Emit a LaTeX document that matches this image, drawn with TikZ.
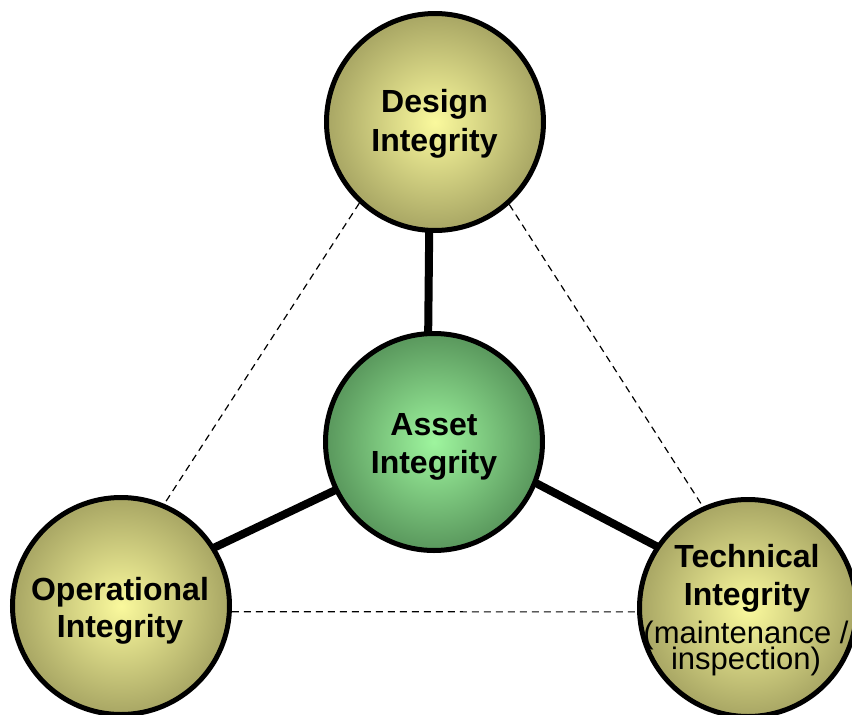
\documentclass[tikz,border=0pt]{standalone}
\usepackage{fontspec}
\setmainfont{Liberation Sans}
\usetikzlibrary{backgrounds}
\definecolor{yin}{HTML}{FAF99D}
\definecolor{yout}{HTML}{ABA966}
\definecolor{gin}{HTML}{9EF59E}
\definecolor{gout}{HTML}{5C9B5F}
\pgfdeclareradialshading{yshade}{\pgfpoint{0bp}{0bp}}{color(0bp)=(yin); color(24bp)=(yout); color(25bp)=(yout); color(50bp)=(yout)}
\pgfdeclareradialshading{gshade}{\pgfpoint{0bp}{0bp}}{color(0bp)=(gin); color(24bp)=(gout); color(25bp)=(gout); color(50bp)=(gout)}
\begin{document}
\begin{tikzpicture}[x=1pt,y=-1pt,
  ball/.style={circle, draw=black, line width=5pt, minimum size=217pt, inner sep=0pt},
  yball/.style={ball, shade, shading=yshade},
  gball/.style={ball, shade, shading=gshade},
  link/.style={draw=black, line width=8pt, shorten <=-6pt, shorten >=-6pt},
  dlink/.style={draw=black, line width=1.2pt, dash pattern=on 7pt off 5pt},
  bt/.style={font=\fontsize{32}{37}\selectfont\bfseries, anchor=base, inner sep=0pt},
  rt/.style={font=\fontsize{31}{30}\selectfont, anchor=base, inner sep=0pt}]
\useasboundingbox (0,0) rectangle (852,715);
\clip (0,0) rectangle (852,715);
\node[yball] (design) at (435,122) {};
\node[gball] (asset) at (434,442) {};
\node[yball] (oper) at (121,606) {};
\node[yball] (tech) at (748,608) {};
\begin{pgfonlayer}{background}
  \draw[link] (design.267) -- (asset.93);
  \draw[link] (asset.206) -- (oper.32);
  \draw[link] (asset.-22.5) -- (tech.146);
  \draw[dlink] (design.227) -- (oper.67);
  \draw[dlink] (design.312) -- (tech.114);
  \draw[dlink] (oper.-3) -- (tech.182);
\end{pgfonlayer}
\node[bt] (d1) at (434.5,112) {Design};
\node[bt] (d2) at (434.5,151) {Integrity};
\node[bt] (a1) at (434,435) {Asset};
\node[bt] (a2) at (434,473) {Integrity};
\node[bt] (o1) at (120,600) {Operational};
\node[bt] (o2) at (120,637) {Integrity};
\node[bt] (t1) at (747,567) {Technical};
\node[bt] (t2) at (747,605) {Integrity};
\node[rt] (t3) at (746,643) {(maintenance /};
\node[rt] (t4) at (746,669) {inspection)};
\end{tikzpicture}
\end{document}
